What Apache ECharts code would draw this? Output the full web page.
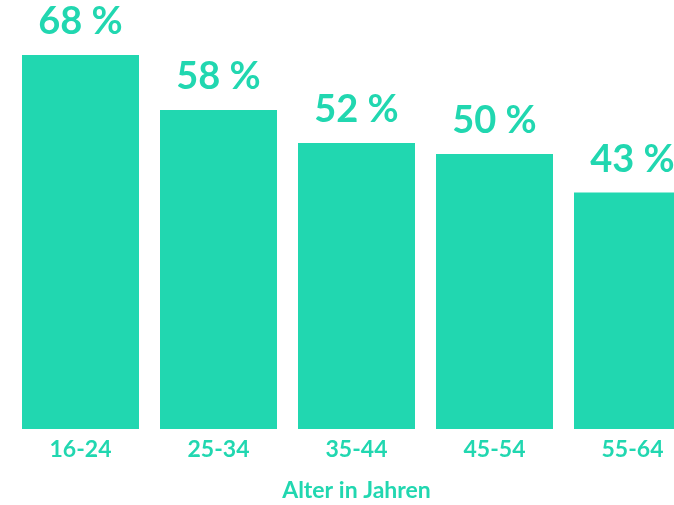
<!DOCTYPE html>
<html>
<head>
<meta charset="utf-8">
<script src="https://cdn.jsdelivr.net/npm/echarts@6/dist/echarts.min.js"></script>
<style>
  html, body { margin: 0; padding: 0; background: #fff; }
  #chart { width: 674px; height: 505px; }
</style>
</head>
<body>
<div id="chart"></div>
<script>
// Altersgruppen
var ageGroups = ['16-24', '25-34', '35-44', '45-54', '55-64'];
// Anteil in Prozent
var shares = [68, 58, 52, 50, 43];

var teal = '#21d7b0';
var font = 'Lato, "Open Sans", sans-serif';

var chart = echarts.init(document.getElementById('chart'));
chart.setOption({
  animation: false,
  // last bar runs past the right edge, like in the source
  grid: { left: 11.5, width: 690, top: 0, bottom: 76, outerBoundsMode: 'none' },
  xAxis: {
    type: 'category',
    data: ageGroups,
    name: 'Alter in Jahren',
    nameLocation: 'middle',
    nameGap: 50,
    nameTextStyle: { color: teal, fontSize: 23, fontFamily: font, fontWeight: 'bold' },
    axisLine: { show: false },
    axisTick: { show: false },
    axisLabel: { color: teal, fontSize: 23, fontFamily: font, fontWeight: 'bold', margin: 9 }
  },
  yAxis: { type: 'value', min: 0, max: 78, show: false },
  series: [{
    type: 'bar',
    data: shares,
    barWidth: 117,
    itemStyle: { color: teal },
    label: {
      show: true,
      position: 'top',
      distance: 14,
      formatter: '{c} %',
      color: teal,
      fontSize: 38,
      fontFamily: font,
      fontWeight: 'bold'
    }
  }]
});
</script>
</body>
</html>
